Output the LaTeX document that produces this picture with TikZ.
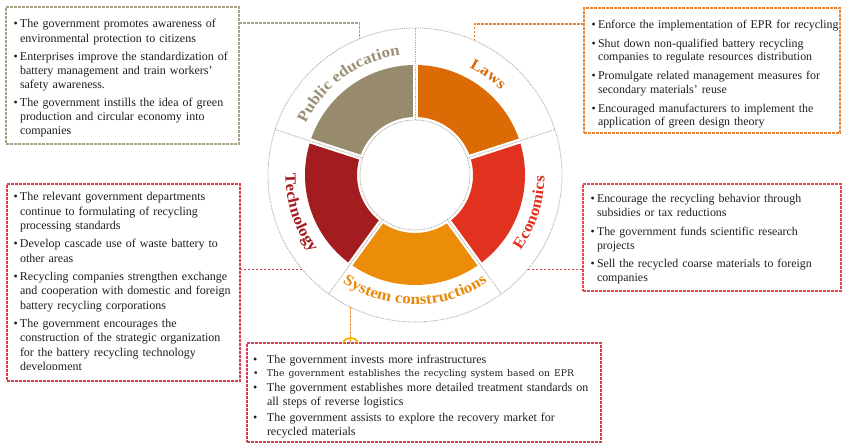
\documentclass[tikz,border=0pt]{standalone}
\usepackage{fontspec}
\setmainfont{Liberation Serif}
\newfontfamily\widesmall{DejaVu Serif}
\newfontfamily\labelfamily[FakeStretch=1.1]{Liberation Serif}
\usetikzlibrary{calc,decorations.text}

% segment fills
\definecolor{pubC}{HTML}{978A6D}
\definecolor{lawC}{HTML}{DC6A05}
\definecolor{ecoC}{HTML}{E0321F}
\definecolor{sysC}{HTML}{EB8D08}
\definecolor{tecC}{HTML}{A31C20}
% segment captions
\definecolor{pubT}{HTML}{9B8F74}
\definecolor{lawT}{HTML}{D9690A}
\definecolor{ecoT}{HTML}{E0321F}
\definecolor{sysT}{HTML}{E8890C}
\definecolor{tecT}{HTML}{A51C20}
% frames and links
\definecolor{dotC}{HTML}{B5AD9E}
\definecolor{pubB}{HTML}{A89F88}
\definecolor{lawB}{HTML}{EB8330}
\definecolor{tecB}{HTML}{D6404A}
\definecolor{ecoB}{HTML}{E84545}
\definecolor{sysB}{HTML}{CF4050}
\definecolor{sysL}{HTML}{F0902A}
\definecolor{archC}{HTML}{F4B400}
\definecolor{txtC}{HTML}{1E1E1E}

\newlength\bulletwd
\setlength\bulletwd{6.5pt}
% first bullet of a list (no paragraph break before it)
\newcommand\firstpoint[1]{\hangindent=\bulletwd\hangafter=1\noindent\makebox[\bulletwd][l]{\textbullet}#1}
% following bullets
\newcommand\bpoint[1]{\par\firstpoint{#1}}
\newcommand\ringfont{\labelfamily\fontsize{15.5}{15.5}\selectfont\bfseries}

\tikzset{
  dotline/.style={draw=dotC, line width=0.9pt, dash pattern=on 0.9pt off 0.9pt},
  framebox/.style={draw=#1, line width=1.1pt, dash pattern=on 2.6pt off 1.4pt,
    rectangle, inner sep=0pt, outer sep=0pt, anchor=north west},
  link/.style={draw=#1, line width=1.1pt, dash pattern=on 2.6pt off 1.4pt},
  notes/.style={anchor=base west, inner sep=0pt, outer sep=0pt, text width=#1,
    align=left, text=txtC, font=\fontsize{12}{14.2}\selectfont},
  gapline/.style={draw=white, line width=5pt},
  roundnode/.style={circle, inner sep=0pt, outer sep=0pt, minimum size=#1},
}

\begin{document}
\begin{tikzpicture}[x=1pt,y=1pt]
\useasboundingbox (0,0) rectangle (843,444);
\coordinate (C) at (415,269);

% five coloured sectors of the wheel
\foreach \a/\b/\c in {18/90/lawC, -54/18/ecoC, -126/-54/sysC, 162/234/tecC, 90/162/pubC}
  \fill[\c] ($(C)+(\a:58pt)$) arc[start angle=\a, end angle=\b, radius=58pt]
    -- ($(C)+(\b:110pt)$) arc[start angle=\b, end angle=\a, radius=110pt] -- cycle;
\foreach \a in {90,18,-54,-126,162}
  \draw[gapline] ($(C)+(\a:50pt)$) -- ($(C)+(\a:114pt)$);

% hub and outer rim
\node[roundnode=110pt, dotline, fill=white] (hub) at (C) {};
\node[roundnode=294pt, dotline] (ring) at (C) {};
\foreach \a in {90,18,306,234,162}
  \draw[dotline] (hub.\a) -- (ring.\a);

% curved captions
\path[decorate, decoration={text along path, text align=center,
  text={|\ringfont\color{pubT}|Public education}}]
  ($(C)+(186:120.5pt)$) arc[start angle=186, end angle=66, radius=120.5pt];
\path[decorate, decoration={text along path, text align=center,
  text={|\ringfont\color{lawT}|Laws}}]
  ($(C)+(114:120.5pt)$) arc[start angle=114, end angle=-6, radius=120.5pt];
\path[decorate, decoration={text along path, text align=center,
  text={|\ringfont\color{ecoT}|Economics}}]
  ($(C)+(-78:129.5pt)$) arc[start angle=-78, end angle=42, radius=129.5pt];
\path[decorate, decoration={text along path, text align=center,
  text={|\ringfont\color{sysT}|System constructions}}]
  ($(C)+(-150:129.5pt)$) arc[start angle=-150, end angle=-30, radius=129.5pt];
\path[decorate, decoration={text along path, text align=center,
  text={|\ringfont\color{tecT}|Technology}}]
  ($(C)+(138:129.5pt)$) arc[start angle=138, end angle=258, radius=129.5pt];

% frames
\node[framebox=pubB, minimum width=233pt, minimum height=137pt] (pubbox) at (6,437) {};
\node[framebox=lawB, minimum width=256pt, minimum height=125pt] (lawbox) at (584,436) {};
\node[framebox=tecB, minimum width=233pt, minimum height=197pt] (tecbox) at (7,260) {};
\node[framebox=ecoB, minimum width=258pt, minimum height=107pt] (ecobox) at (583,260) {};
\node[framebox=sysB, minimum width=354pt, minimum height=99pt] (sysbox) at (247,101) {};

% notes
\node[notes=240pt] (pubtxt) at (13.5,416) {%
  \setlength\parskip{3.8pt}%
  \firstpoint{The government promotes awareness of\newline environmental protection to citizens}
  \bpoint{Enterprises improve the standardization of\newline battery management and train workers'\newline safety awareness.}
  \bpoint{The government instills\ the idea of green\newline production and circular economy into\newline companies}\par};

\node[notes=260pt, font=\fontsize{11.9}{13.8}\selectfont] (lawtxt) at (591.5,415.5) {%
  \setlength\parskip{4.9pt}%
  \firstpoint{Enforce the implementation of EPR for recycling}
  \bpoint{Shut down non-qualified battery recycling\newline companies to regulate resources distribution}
  \bpoint{Promulgate related management measures for\newline secondary materials’ reuse}
  \bpoint{Encouraged manufacturers to implement the\newline application of green design theory}\par};

\begin{scope}
  \clip ([yshift=11pt]tecbox.south west) rectangle (tecbox.north east);
  \node[notes=240pt, font=\fontsize{12}{14.5}\selectfont] (tectxt) at (13.5,243) {%
    \setlength\parskip{3.5pt}%
    \firstpoint{The relevant government departments\newline continue to formulating of recycling\newline processing standards}
    \bpoint{Develop cascade use of waste battery to\newline other areas}
    \bpoint{Recycling companies strengthen exchange\newline and cooperation with domestic and foreign\newline battery recycling corporations}
    \bpoint{The government encourages the\newline construction of the strategic organization\newline for the battery recycling technology\newline development}\par};
\end{scope}

\node[notes=260pt, font=\fontsize{11.9}{14}\selectfont] (ecotxt) at (590.5,241) {%
  \setlength\parskip{4.3pt}%
  \firstpoint{Encourage the recycling behavior through\newline subsidies or tax reductions}
  \bpoint{The government funds scientific research\newline projects}
  \bpoint{Sell the recycled coarse materials to foreign\newline companies}\par};

\node[notes=350pt] (systxt) at (253,80) {%
  \setlength\parskip{1.2pt}\setlength\bulletwd{14pt}%
  \firstpoint{The government invests more infrastructures}
  {\widesmall\fontsize{9.2}{11}\selectfont
  \bpoint{The government establishes the recycling system based on EPR}\par}
  \bpoint{The government establishes more detailed treatment standards on\newline all steps of reverse logistics}
  \bpoint{The government assists to explore the recovery market for\newline recycled materials}\par};

% links from the frames to the wheel
\draw[link=pubB] ([yshift=-16pt]pubbox.north east) -| (ring.112);
\draw[link=lawB] ([yshift=-16pt]lawbox.north west) -| (ring.66);
\draw[link=tecB] (ring.220) -- (ring.220 -| tecbox.east);
\draw[link=ecoB] (ring.320) -- (ring.320 -| ecobox.west);
\draw[link=sysL] (ring.244) -- (ring.244 |- sysbox.north);
\coordinate (archbase) at (ring.244 |- sysbox.north);
\draw[archC, line width=1.8pt] ([xshift=-7pt]archbase)
  arc[start angle=180, end angle=0, x radius=7pt, y radius=5pt];
\end{tikzpicture}
\end{document}
